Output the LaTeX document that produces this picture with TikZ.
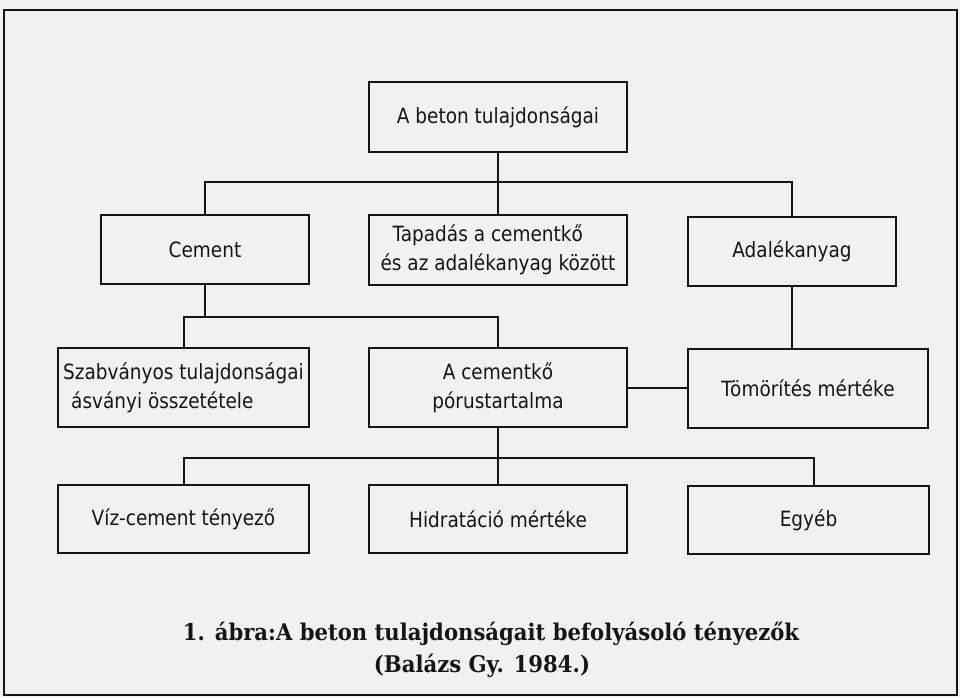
\documentclass[tikz,border=0pt]{standalone}
\usepackage{fontspec}
\setmainfont{DejaVu Sans}[FakeStretch=0.88]
\newfontfamily\capfont{DejaVu Serif}[FakeStretch=0.92]
\definecolor{paper}{HTML}{F1F1F1}
\definecolor{ink}{HTML}{151515}
\begin{document}
\begin{tikzpicture}[x=1pt,y=-1pt,
  box/.style={draw=ink, line width=2pt, rectangle, inner sep=0pt, text=ink,
              font=\fontsize{21}{29}\selectfont},
  conn/.style={draw=ink, line width=2pt},
  captext/.style={text=ink, inner sep=0pt, font=\capfont\bfseries\fontsize{23}{30}\selectfont}]
\fill[paper] (0,0) rectangle (960,697);
\useasboundingbox (0,0) rectangle (960,697);
\draw[ink, line width=2.4pt] (4,10) rectangle (957,695);

% level 0
\node[box, minimum width=258pt, minimum height=70pt] (root) at (498,117) {A beton tulajdonságai};
% level 1
\node[box, minimum width=208pt, minimum height=69pt] (cement) at (205,249.5) {Cement};
\node[box, minimum width=258pt, minimum height=70pt, align=left] (tapadas) at (498,250)
  {\hspace*{12pt}Tapadás a cementkő\\és az adalékanyag között};
\node[box, minimum width=208pt, minimum height=69pt] (adalek) at (792,251.5) {Adalékanyag};
% level 2
\node[box, minimum width=251pt, minimum height=79pt, align=left] (szabv) at (183.5,387.5)
  {Szabványos tulajdonságai\\\hspace*{8pt}ásványi összetétele};
\node[box, minimum width=258pt, minimum height=79pt, align=center] (cementko) at (498,387.5)
  {A cementkő\\pórustartalma};
\node[box, minimum width=240pt, minimum height=79pt] (tomor) at (808,388.5) {Tömörítés mértéke};
% level 3
\node[box, minimum width=251pt, minimum height=68pt] (viz) at (183.5,519) {Víz-cement tényező};
\node[box, minimum width=258pt, minimum height=68pt] (hidr) at (498,519) {Hidratáció mértéke};
\node[box, minimum width=241pt, minimum height=68pt] (egyeb) at (808.5,520) {Egyéb};

% bus coordinates
\coordinate (b1) at (498,182);
\coordinate (b2) at (340,317);
\coordinate (b3) at (498,458);

% connectors
\draw[conn] (root.south) -- (tapadas.north);
\draw[conn] (cement.north) |- (b1) -| (adalek.north);
\draw[conn] (cement.south) -- (cement.south |- b2);
\draw[conn] (szabv.north) |- (b2) -| (cementko.north);
\draw[conn] (cementko.east) -- (cementko.east -| tomor.west);
\draw[conn] (adalek.south) -- (adalek.south |- tomor.north);
\draw[conn] (cementko.south) -- (hidr.north);
\draw[conn] (viz.north) |- (b3) -| ([xshift=5pt]egyeb.north);

% caption
\node[captext] (c1) at (491,634) {1. ábra:A beton tulajdonságait befolyásoló tényezők};
\node[captext] (c2) at (482,666) {(Balázs Gy. 1984.)};
\end{tikzpicture}
\end{document}
